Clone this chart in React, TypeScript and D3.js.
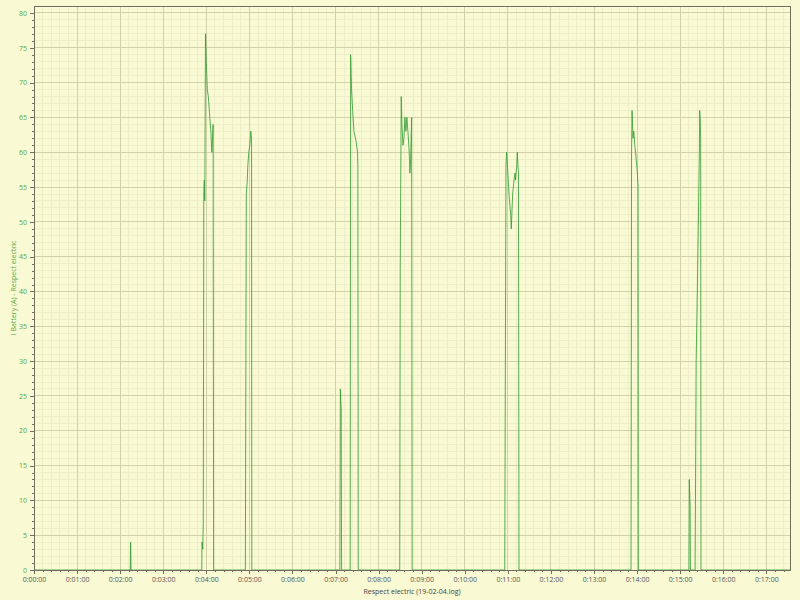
import React, { useEffect, useRef } from "react";
import * as d3 from "d3";

// time in seconds, current in amperes
const seconds: number[] = [
  0, 134, 134.6, 135.2,
  233.7, 234, 235.1, 235.8, 236.5, 237.2, 237.9, 238.9, 240, 241.4, 242.8, 244.9, 246.3, 247.7, 249.5, 250.2,
  294.4, 295.7, 297.1, 297.8, 299.2, 300.6, 302, 303, 303.4,
  426, 426.7, 427.9, 428.4,
  440.4, 441, 442.3, 443.8, 445.6, 448.4, 450.7, 451.1, 451.6,
  509.4, 510.1, 511.5, 512.5, 513.9, 515.3, 516.6, 518, 519.4, 520.8, 522.6, 523.6, 524.6, 526, 526.7,
  655.7, 657.4, 658.3, 659.5, 661.6, 664, 664.8, 666.7, 668.6, 670, 670.7, 672.3, 673.2, 674.1, 674.8, 675.5,
  831.6, 832.3, 833, 834.4, 835.4, 836.8, 837.9, 839.6, 840.4, 841.4, 841.8,
  912.2, 912.7, 913.9, 914.3,
  920.8, 922.3, 923.3, 926.8, 927.2, 927.8, 928.6, 929,
  1053,
];
const amps: number[] = [
  0, 0, 4, 0,
  0, 4, 3, 7, 54, 56, 53, 77, 73, 69, 68, 65, 63, 60, 64, 0,
  0, 54, 56, 58, 60, 61, 63, 62, 0,
  0, 26, 23, 0,
  0, 74, 69, 66, 63, 61.7, 60, 58, 0,
  0, 43, 68, 64, 61, 62, 65, 63, 65, 63, 60, 57, 59, 65, 0,
  0, 58, 60, 58, 54, 51, 49, 54, 56, 57, 56, 58, 60, 58, 57, 0,
  0, 60, 66, 62, 63, 61, 60, 58, 57, 55, 0,
  0, 13, 9, 0,
  0, 30, 36, 60, 66, 65, 62, 0,
  0,
];

const xMax = 1053;
const yMax = 81;
const yTicks: number[] = d3.range(0, 81, 5);
const xTicks: number[] = d3.range(0, 1021, 60);
const xTitle = "Respect electric (19-02-04.log)";
const yTitle = "I Battery (A) - Respect electric";

const fmtTime = (s: number) => {
  const h = Math.floor(s / 3600);
  const m = Math.floor((s % 3600) / 60);
  const sec = Math.round(s % 60);
  return `${h}:${String(m).padStart(2, "0")}:${String(sec).padStart(2, "0")}`;
};

export default function App() {
  const ref = useRef<SVGSVGElement | null>(null);
  const width = 800;
  const height = 600;

  useEffect(() => {
    const svg = d3.select(ref.current);
    svg.selectAll("*").remove();

    const margin = { top: 6, right: 10, bottom: 30, left: 34 };
    const x = d3.scaleLinear().domain([0, xMax]).range([margin.left, width - margin.right]);
    const y = d3.scaleLinear().domain([0, yMax]).range([height - margin.bottom, margin.top]);

    svg.append("rect").attr("width", width).attr("height", height).attr("fill", "#f9f9d3");

    const grid = svg.append("g").attr("shape-rendering", "crispEdges");
    const minorX = d3.range(0, xMax, 12).filter((v) => v % 60 !== 0);
    const minorY = d3.range(0, yMax, 1).filter((v) => v % 5 !== 0);
    grid.selectAll(".mx").data(minorX).join("line")
      .attr("x1", (d) => x(d)).attr("x2", (d) => x(d))
      .attr("y1", y(0)).attr("y2", y(yMax))
      .attr("stroke", "#eeeec9");
    grid.selectAll(".my").data(minorY).join("line")
      .attr("y1", (d) => y(d)).attr("y2", (d) => y(d))
      .attr("x1", x(0)).attr("x2", x(xMax))
      .attr("stroke", "#eeeec9");
    grid.selectAll(".gx").data(xTicks.slice(1)).join("line")
      .attr("x1", (d) => x(d)).attr("x2", (d) => x(d))
      .attr("y1", y(0)).attr("y2", y(yMax))
      .attr("stroke", "#d2d2aa");
    grid.selectAll(".gy").data(yTicks.slice(1)).join("line")
      .attr("y1", (d) => y(d)).attr("y2", (d) => y(d))
      .attr("x1", x(0)).attr("x2", x(xMax))
      .attr("stroke", "#d2d2aa");

    const pts: [number, number][] = seconds.map((s, i) => [s, amps[i]]);
    const line = d3.line<[number, number]>().x((d) => x(d[0])).y((d) => y(d[1]));
    svg.append("path")
      .datum(pts)
      .attr("fill", "none")
      .attr("stroke", "#2f9a2f")
      .attr("stroke-opacity", 0.8)
      .attr("stroke-width", 1)
      .attr("d", line);

    svg.append("rect")
      .attr("x", x(0)).attr("y", y(yMax))
      .attr("width", x(xMax) - x(0)).attr("height", y(0) - y(yMax))
      .attr("fill", "none").attr("stroke", "#707060")
      .attr("shape-rendering", "crispEdges");

    const font = "'Open Sans', 'DejaVu Sans', sans-serif";

    const xAxis = svg.append("g")
      .attr("transform", `translate(0,${y(0)})`)
      .call(d3.axisBottom(x).tickValues(xTicks).tickFormat((d) => fmtTime(+d)).tickSize(4).tickSizeOuter(0));
    svg.append("g")
      .attr("transform", `translate(0,${y(0)})`)
      .call(d3.axisBottom(x).tickValues(minorX).tickFormat(() => "").tickSize(2).tickSizeOuter(0))
      .call((g) => g.select(".domain").remove());
    xAxis.selectAll("text")
      .attr("font-family", font).attr("font-size", 7).attr("fill", "#555")
      .attr("y", 7).attr("dy", "0.71em");

    const yAxis = svg.append("g")
      .attr("transform", `translate(${x(0)},0)`)
      .call(d3.axisLeft(y).tickValues(yTicks).tickSize(4).tickSizeOuter(0));
    svg.append("g")
      .attr("transform", `translate(${x(0)},0)`)
      .call(d3.axisLeft(y).tickValues(minorY).tickFormat(() => "").tickSize(2).tickSizeOuter(0))
      .call((g) => g.select(".domain").remove());
    yAxis.selectAll("text").attr("font-family", font).attr("font-size", 7).attr("fill", "#5aa83a");

    svg.selectAll(".domain, .tick line").attr("stroke", "#707060").attr("shape-rendering", "crispEdges");

    svg.append("text")
      .attr("x", (x(0) + x(xMax)) / 2).attr("y", 594)
      .attr("text-anchor", "middle")
      .attr("font-family", font).attr("font-size", 7).attr("fill", "#444")
      .text(xTitle);

    svg.append("text")
      .attr("transform", `translate(16,${(y(0) + y(yMax)) / 2}) rotate(-90)`)
      .attr("text-anchor", "middle")
      .attr("font-family", font).attr("font-size", 7).attr("fill", "#5aa83a")
      .text(yTitle);
  }, []);

  return (
    <svg
      ref={ref}
      width={width}
      height={height}
      style={{ position: "absolute", left: 0, top: 0 }}
    />
  );
}
